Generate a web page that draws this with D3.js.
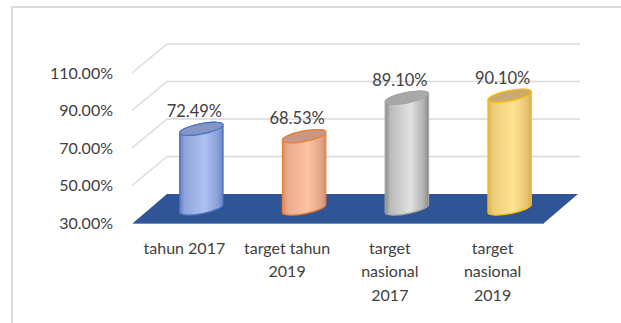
<!DOCTYPE html>
<html>
<head>
<meta charset="utf-8">
<script src="https://cdn.jsdelivr.net/npm/d3@7"></script>
<style>
  html, body { margin: 0; padding: 0; background: #ffffff; }
  svg { display: block; }
  text { font-family: Lato, "Open Sans", sans-serif; fill: #404040; }
</style>
</head>
<body>
<svg id="chart" width="621" height="323"></svg>
<script>
// Chart data
const categories = ["tahun 2017", "target tahun 2019", "target nasional 2017", "target nasional 2019"];
const values = [72.49, 68.53, 89.10, 90.10];
const tickValues = [30, 50, 70, 90, 110];

// Cylinder styles per category: [edge, centre, outline, top]
const fills = [
  ["#6b82bd", "#adc2f2", "#4472c4", "#8696c4"],
  ["#d48c6f", "#fdc3a4", "#ed7d31", "#c79886"],
  ["#8a8a8a", "#e2e2e2", "#a5a5a5", "#a8a8a8"],
  ["#d6ad5c", "#ffe394", "#ffc000", "#c9aa72"]
];

const svg = d3.select("#chart");
const W = 621, H = 323;

// Frame around the chart area
svg.append("rect")
  .attr("x", 12).attr("y", 7)
  .attr("width", W + 20).attr("height", H + 20)
  .attr("fill", "none")
  .attr("stroke", "#d9d9d9")
  .attr("stroke-width", 2);

// Front plane geometry and 3D depth offset
const front = { left: 133, right: 544 };
const depth = { dx: 34, dy: -29 };

const y = d3.scaleLinear().domain([30, 110]).range([223, 73]);
const x = d3.scaleBand().domain(categories).range([front.left, front.right]).paddingInner(0).paddingOuter(0);

const defs = svg.append("defs");
fills.forEach((f, i) => {
  const g = defs.append("linearGradient")
    .attr("id", "cyl" + i)
    .attr("x1", "0%").attr("x2", "100%").attr("y1", "0%").attr("y2", "0%");
  g.append("stop").attr("offset", "0%").attr("stop-color", f[0]);
  g.append("stop").attr("offset", "12%").attr("stop-color", d3.interpolateRgb(f[0], f[1])(0.55));
  g.append("stop").attr("offset", "58%").attr("stop-color", f[1]);
  g.append("stop").attr("offset", "88%").attr("stop-color", d3.interpolateRgb(f[1], f[0])(0.55));
  g.append("stop").attr("offset", "100%").attr("stop-color", f[0]);
});

// Gridlines: back wall and left side wall
const grid = svg.append("g").attr("stroke", "#d9d9d9").attr("stroke-width", 1.3).attr("fill", "none");
tickValues.filter(t => t > 30).forEach(t => {
  const yb = y(t) + depth.dy;
  grid.append("line")
    .attr("x1", front.left + depth.dx).attr("x2", front.right + depth.dx + 2)
    .attr("y1", yb).attr("y2", yb);
  grid.append("line")
    .attr("x1", front.left - 1).attr("y1", y(t))
    .attr("x2", front.left + depth.dx).attr("y2", yb);
});

// Floor
const y0 = y(30);
svg.append("path")
  .attr("d", `M${front.left},${y0} L${front.right},${y0} L${front.right + depth.dx},${y0 + depth.dy} L${front.left + depth.dx},${y0 + depth.dy} Z`)
  .attr("fill", "#2f5597");
svg.append("line")
  .attr("x1", front.left).attr("x2", front.right)
  .attr("y1", y0 + 0.5).attr("y2", y0 + 0.5)
  .attr("stroke", "#6f8cc8").attr("stroke-width", 1);

// Y axis tick labels
const fmt = d3.format(".2f");
svg.append("g").selectAll("text")
  .data(tickValues)
  .join("text")
  .attr("x", 113)
  .attr("y", d => y(d))
  .attr("dy", "0.36em")
  .attr("text-anchor", "end")
  .attr("font-size", 16)
  .text(d => fmt(d) + "%");

// Cylinders placed at mid depth
const mid = { dx: depth.dx / 2, dy: depth.dy / 2 };
const rx = x.bandwidth() * 0.215;
const ry = 5.2;
const tilt = 11;
const tr = tilt * Math.PI / 180;
const ex = rx * Math.cos(tr), ey = rx * Math.sin(tr);

const bars = svg.append("g").selectAll("g")
  .data(categories.map((c, i) => ({ c, v: values[i], i })))
  .join("g");

bars.each(function(d) {
  const g = d3.select(this);
  const cx = x(d.c) + x.bandwidth() / 2 + mid.dx;
  const yt = y(d.v) + mid.dy;
  const yb = y(30) + mid.dy;
  const f = fills[d.i];
  g.append("path")
    .attr("d", `M${cx - ex},${yt + ey} L${cx - ex},${yb + ey} ` +
      `A${rx},${ry} ${-tilt} 0 0 ${cx + ex},${yb - ey} ` +
      `L${cx + ex},${yt - ey} A${rx},${ry} ${-tilt} 0 0 ${cx - ex},${yt + ey} Z`)
    .attr("fill", `url(#cyl${d.i})`)
    .attr("stroke", f[2])
    .attr("stroke-width", 1.2);
  g.append("ellipse")
    .attr("cx", cx).attr("cy", yt)
    .attr("rx", rx).attr("ry", ry)
    .attr("transform", `rotate(${-tilt},${cx},${yt})`)
    .attr("fill", f[3])
    .attr("stroke", f[2])
    .attr("stroke-width", 1.2);
  g.append("text")
    .attr("x", cx - 7)
    .attr("y", yt - 18)
    .attr("dy", "0.36em")
    .attr("text-anchor", "middle")
    .attr("font-size", 16.5)
    .text(fmt(d.v) + "%");
});

// Category labels, wrapped to the band width
const labelG = svg.append("g");
categories.forEach(c => {
  const t = labelG.append("text")
    .attr("x", x(c) + x.bandwidth() / 2)
    .attr("y", 248)
    .attr("text-anchor", "middle")
    .attr("font-size", 16);
  const words = c.split(" ");
  let lines = [], line = [];
  const probe = t.append("tspan");
  words.forEach(w => {
    const trial = line.concat(w).join(" ");
    probe.text(trial);
    if (probe.node().getComputedTextLength() > 98 && line.length) {
      lines.push(line.join(" "));
      line = [w];
    } else {
      line.push(w);
    }
  });
  lines.push(line.join(" "));
  probe.remove();
  lines.forEach((l, k) => {
    t.append("tspan")
      .attr("x", x(c) + x.bandwidth() / 2)
      .attr("y", 248 + k * 23.5)
      .attr("dy", "0.36em")
      .text(l);
  });
});
</script>
</body>
</html>
